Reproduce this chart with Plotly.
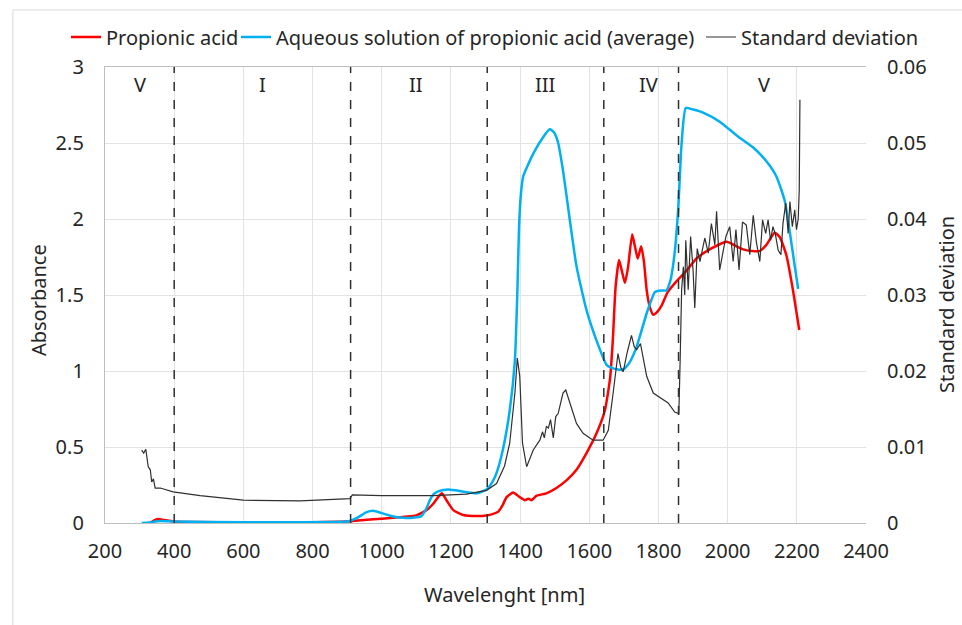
import plotly.graph_objects as go

# ---- data ----
red_x = [330, 345, 355, 370, 400, 450, 600, 800, 880, 910, 950, 1000, 1050, 1100, 1130, 1150, 1163, 1174, 1187,
         1207, 1236, 1274, 1303, 1320, 1337, 1350, 1361, 1380, 1399, 1414, 1424, 1433, 1448, 1476, 1505, 1534,
         1563, 1592, 1621, 1645, 1660, 1668, 1676, 1686, 1694, 1703, 1712, 1724, 1732, 1740, 1750, 1758, 1766,
         1775, 1785, 1797, 1809, 1827, 1852, 1881, 1910, 1948, 1997, 2026, 2045, 2070, 2093, 2112, 2136, 2151,
         2170, 2189, 2207]
red_y = [0.0, 0.02, 0.026, 0.02, 0.01, 0.006, 0.004, 0.005, 0.008, 0.012, 0.02, 0.028, 0.038, 0.05, 0.085, 0.13,
         0.17, 0.195, 0.15, 0.085, 0.053, 0.046, 0.05, 0.058, 0.075, 0.12, 0.17, 0.2, 0.17, 0.15, 0.16, 0.15, 0.18,
         0.195, 0.23, 0.28, 0.35, 0.46, 0.59, 0.74, 0.95, 1.2, 1.55, 1.73, 1.66, 1.58, 1.68, 1.90, 1.82, 1.74, 1.82,
         1.72, 1.53, 1.42, 1.37, 1.39, 1.43, 1.52, 1.59, 1.66, 1.74, 1.80, 1.85, 1.82, 1.80, 1.79, 1.79, 1.83, 1.91,
         1.88, 1.76, 1.53, 1.27]

blue_x = [306, 330, 345, 360, 400, 500, 700, 850, 905, 930, 955, 975, 1000, 1030, 1060, 1090, 1115, 1130, 1139,
          1150, 1165, 1192, 1226, 1250, 1274, 1303, 1320, 1332, 1350, 1370, 1385, 1392, 1397, 1403, 1409, 1438,
          1467, 1486, 1498, 1510, 1524, 1544, 1563, 1592, 1621, 1650, 1665, 1683, 1698, 1715, 1737, 1766, 1790,
          1808, 1823, 1835, 1842, 1850, 1857, 1867, 1879, 1900, 1929, 1977, 2026, 2074, 2112, 2141, 2165, 2180,
          2194, 2204]
blue_y = [0.0, 0.003, 0.01, 0.013, 0.01, 0.006, 0.005, 0.007, 0.012, 0.035, 0.07, 0.08, 0.065, 0.045, 0.035,
          0.035, 0.045, 0.1, 0.15, 0.19, 0.21, 0.22, 0.21, 0.2, 0.195, 0.22, 0.27, 0.33, 0.48, 0.74, 1.07, 1.51,
          1.95, 2.18, 2.28, 2.43, 2.54, 2.59, 2.57, 2.50, 2.32, 1.99, 1.69, 1.40, 1.20, 1.04, 1.02, 1.01, 1.01,
          1.05, 1.16, 1.38, 1.52, 1.53, 1.53, 1.60, 1.69, 1.85, 2.06, 2.50, 2.73, 2.72, 2.70, 2.64, 2.55, 2.47,
          2.38, 2.28, 2.12, 1.91, 1.69, 1.54]

sd_x = [306, 312, 318, 325, 331, 335, 340, 345, 360, 397, 475, 600, 764, 903, 908, 915, 1000, 1150, 1245, 1303,
        1332, 1355, 1370, 1385, 1392, 1399, 1407, 1419, 1438, 1457, 1465, 1470, 1476, 1482, 1488, 1496, 1503,
        1510, 1524, 1532, 1544, 1563, 1582, 1611, 1640, 1655, 1669, 1683, 1691, 1698, 1710, 1722, 1730, 1737,
        1748, 1766, 1785, 1809, 1828, 1847, 1859, 1863, 1867, 1872, 1876, 1879, 1886, 1893, 1900, 1905, 1912,
        1920, 1934, 1944, 1953, 1963, 1968, 1977, 1987, 1995, 2006, 2016, 2024, 2033, 2043, 2054, 2064, 2074,
        2083, 2093, 2101, 2110, 2117, 2124, 2131, 2138, 2146, 2154, 2160, 2168, 2175, 2180, 2187, 2194, 2199,
        2204, 2207, 2209]
sd_y = [0.0096, 0.0092, 0.0097, 0.0074, 0.0070, 0.0054, 0.0058, 0.0046, 0.0046, 0.0041, 0.0036, 0.0030, 0.0029,
        0.0031, 0.0032, 0.0037, 0.0036, 0.0036, 0.0038, 0.0043, 0.0052, 0.0075, 0.0105, 0.0171, 0.0217, 0.0193,
        0.0105, 0.0074, 0.0096, 0.0109, 0.0120, 0.0112, 0.0127, 0.0125, 0.0136, 0.0112, 0.0140, 0.0144, 0.0171,
        0.0175, 0.0158, 0.0131, 0.0118, 0.0109, 0.0109, 0.0122, 0.0171, 0.0223, 0.0205, 0.0199, 0.0225, 0.0247,
        0.0232, 0.0228, 0.0236, 0.0193, 0.0171, 0.0164, 0.0158, 0.0146, 0.0144, 0.0220, 0.0307, 0.0337, 0.0300,
        0.0372, 0.0307, 0.0377, 0.0333, 0.0283, 0.0361, 0.0344, 0.0375, 0.0355, 0.0394, 0.0366, 0.0410, 0.0333,
        0.0355, 0.0377, 0.0390, 0.0344, 0.0386, 0.0333, 0.0396, 0.0392, 0.0353, 0.0405, 0.0370, 0.0344, 0.0399,
        0.0381, 0.0399, 0.0372, 0.0390, 0.0380, 0.0359, 0.0353, 0.0394, 0.0421, 0.0381, 0.0423, 0.0390, 0.0412,
        0.0386, 0.0400, 0.0438, 0.0557]

region_bounds = [400, 910, 1305, 1642, 1858]
region_labels = ["V", "I", "II", "III", "IV", "V"]
region_label_x = [300, 655, 1100, 1472, 1770, 2105]

x_ticks = [200, 400, 600, 800, 1000, 1200, 1400, 1600, 1800, 2000, 2200, 2400]
y_ticks = [0, 0.5, 1, 1.5, 2, 2.5, 3]
y_tick_text = ["0", "0.5", "1", "1.5", "2", "2.5", "3"]
y2_ticks = [0, 0.01, 0.02, 0.03, 0.04, 0.05, 0.06]
y2_tick_text = ["0", "0.01", "0.02", "0.03", "0.04", "0.05", "0.06"]

FONT = "Noto Sans"
TXT = "#262626"
fsize = 20

fig = go.Figure()
fig.add_trace(go.Scatter(x=red_x, y=red_y, mode="lines", name="Propionic acid", legend="legend",
                         line=dict(color="#FF0000", width=2.5, shape="spline", smoothing=0.5)))
fig.add_trace(go.Scatter(x=blue_x, y=blue_y, mode="lines", name="Aqueous solution of propionic acid (average)",
                         legend="legend2",
                         line=dict(color="#00B0F0", width=2.5, shape="spline", smoothing=0.5)))
fig.add_trace(go.Scatter(x=sd_x, y=sd_y, mode="lines", name="Standard deviation", yaxis="y2", legend="legend3",
                         line=dict(color="#303030", width=1.2)))

shapes = []
for b in region_bounds:
    shapes.append(dict(type="line", xref="x", yref="paper", x0=b, x1=b, y0=0, y1=1,
                       line=dict(color="#303030", width=1.5, dash="dash")))
# outer chart border
shapes.append(dict(type="rect", xref="paper", yref="paper", x0=-0.121, x1=1.3, y0=-0.4, y1=1.125,
                   line=dict(color="#D9D9D9", width=1), layer="below"))

annotations = []
for lx, lt in zip(region_label_x, region_labels):
    annotations.append(dict(x=lx, y=0.961, xref="x", yref="paper", text=lt, showarrow=False,
                            font=dict(family=FONT, size=fsize, color=TXT), xanchor="center", yanchor="middle"))
annotations.append(dict(x=0.5256, y=-0.156, xref="paper", yref="paper", text="Wavelenght [nm]", showarrow=False,
                        font=dict(family=FONT, size=fsize, color=TXT), xanchor="center", yanchor="middle"))
annotations.append(dict(x=-0.088, y=0.489, xref="paper", yref="paper", text="Absorbance", showarrow=False,
                        textangle=-90, font=dict(family=FONT, size=fsize, color=TXT),
                        xanchor="center", yanchor="middle"))
annotations.append(dict(x=(946 - 105) / 761, y=0.478, xref="paper", yref="paper", text="Standard deviation",
                        showarrow=False, textangle=-90, font=dict(family=FONT, size=fsize, color=TXT),
                        xanchor="center", yanchor="middle"))


def leg(xpx):
    return dict(orientation="h", xref="container", yref="container", x=xpx / 962, xanchor="left",
                y=1 - 37 / 625, yanchor="middle", font=dict(family=FONT, size=fsize, color=TXT),
                itemwidth=30, bgcolor="rgba(0,0,0,0)")


fig.update_layout(
    width=962, height=625,
    margin=dict(l=105, r=96, t=67, b=102, autoexpand=False),
    paper_bgcolor="white", plot_bgcolor="white",
    font=dict(family=FONT, size=fsize, color=TXT),
    showlegend=True,
    legend=leg(66),
    legend2=leg(236),
    legend3=leg(701),
    xaxis=dict(range=[200, 2400], tickvals=x_ticks, showgrid=True, gridcolor="#E3E3E3", gridwidth=1,
               showline=True, linecolor="#BFBFBF", linewidth=1.3, mirror=True, ticks="", zeroline=False,
               tickfont=dict(family=FONT, size=fsize, color=TXT), ticklabelstandoff=10),
    yaxis=dict(range=[0, 3], tickvals=y_ticks, ticktext=y_tick_text, showgrid=True, gridcolor="#E3E3E3",
               showline=True, linecolor="#BFBFBF", linewidth=1.3, ticks="", zeroline=False,
               tickfont=dict(family=FONT, size=fsize, color=TXT), ticklabelstandoff=16),
    yaxis2=dict(range=[0, 0.06], tickvals=y2_ticks, ticktext=y2_tick_text, overlaying="y", side="right",
                showgrid=False, showline=False, ticks="", zeroline=False,
                tickfont=dict(family=FONT, size=fsize, color=TXT), ticklabelstandoff=20),
    shapes=shapes,
    annotations=annotations,
)

fig.write_html("out.html")
